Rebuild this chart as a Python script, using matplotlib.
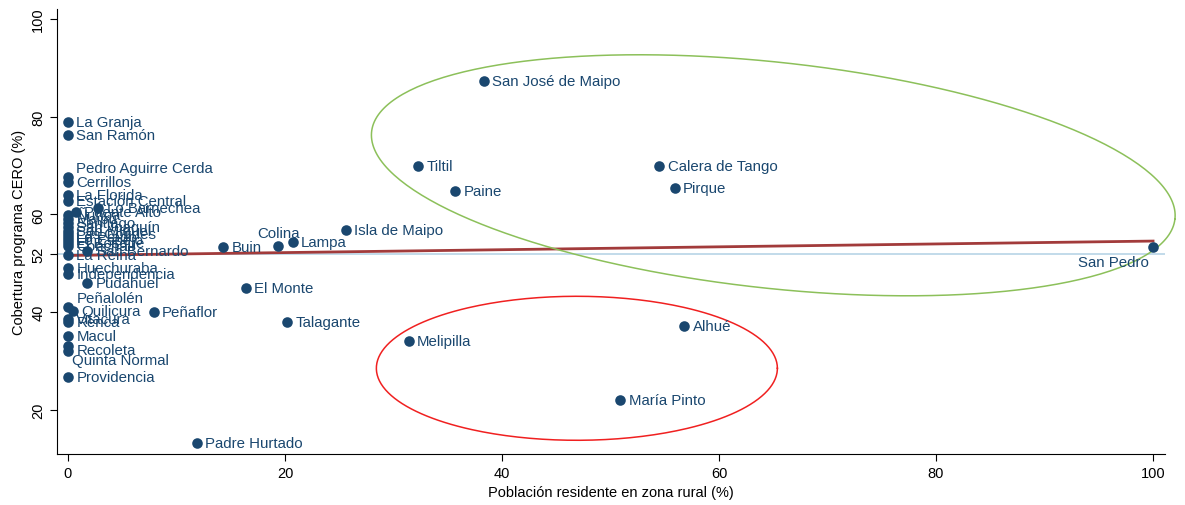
import numpy as np
import matplotlib
matplotlib.use("Agg")
import matplotlib.pyplot as plt

plt.rcParams['font.family'] = ['Liberation Sans', 'DejaVu Sans']

# comunas of the Región Metropolitana
comunas = ["La Granja", "San Ramón", "Pedro Aguirre Cerda", "Cerrillos",
           "La Florida", "Estación Central", "Lo Barnechea", "Puente Alto",
           "Ñuñoa", "Maipú", "Santiago", "San Joaquín", "San Miguel",
           "Las Condes", "Lo Prado", "Lo Espejo", "El Bosque", "Conchalí",
           "San Bernardo", "La Reina", "Huechuraba", "Independencia",
           "Pudahuel", "Peñalolén", "Quilicura", "Vitacura", "Renca",
           "Macul", "Recoleta", "Quinta Normal", "Providencia",
           "Padre Hurtado", "Peñaflor", "El Monte", "Talagante", "Buin",
           "Colina", "Lampa", "Isla de Maipo", "Tiltil", "Paine",
           "San José de Maipo", "Melipilla", "María Pinto", "Alhué",
           "Calera de Tango", "Pirque", "San Pedro"]
# % population living in rural zone
rural = [0, 0, 0, 0,
         0, 0, 2.8, 0.7,
         0, 0, 0, 0, 0,
         0, 0, 0, 0, 0,
         1.8, 0, 0, 0,
         1.8, 0, 0.5, 0, 0,
         0, 0, 0, 0,
         11.9, 7.9, 16.4, 20.2, 14.3,
         19.4, 20.7, 25.6, 32.3, 35.7,
         38.3, 31.4, 50.9, 56.8,
         54.5, 55.9, 100]
# cobertura programa CERO (%)
cobertura = [78.9, 76.3, 67.7, 66.7,
             63.9, 62.8, 61.3, 60.5,
             59.8, 59.0, 58.3, 57.5, 56.7,
             56.0, 55.3, 54.7, 54.1, 53.5,
             52.6, 51.7, 49.1, 47.9,
             46.0, 41.1, 40.3, 38.6, 38.0,
             35.2, 33.1, 32.1, 26.8,
             13.3, 40.1, 45.0, 38.0, 53.4,
             53.6, 54.4, 56.9, 69.9, 64.8,
             87.3, 34.2, 22.1, 37.2,
             69.9, 65.4, 53.4]

# label positions that are not to the right of the marker
label_pos = {"Pedro Aguirre Cerda": "above", "Peñalolén": "above",
             "Quinta Normal": "below", "Recoleta": "lowright",
             "Colina": "top", "San Pedro": "bottomleft"}

navy = "#1a476f"

fig = plt.figure(figsize=(11.85, 5.06), dpi=100)
ax = fig.add_axes([57 / 1185, 51 / 506, 1108 / 1185, 445 / 506])

# mean line and linear fit
ax.axhline(52, color="#b7d4e6", lw=1.2, zorder=1)
slope, intercept = np.polyfit(rural, cobertura, 1)
xs = np.array([0, 100])
ax.plot(xs, intercept + slope * xs, color="#a23b3b", lw=2, zorder=2)

ax.scatter(rural, cobertura, s=58, color=navy, zorder=3, linewidths=0)

for name, x, y in zip(comunas, rural, cobertura):
    pos = label_pos.get(name, "right")
    if pos == "right":
        off, ha, va = (6, 0), "left", "center"
    elif pos == "above":
        off, ha, va = (6, 6.5), "left", "center"
    elif pos == "below":
        off, ha, va = (3, -6.5), "left", "center"
    elif pos == "lowright":
        off, ha, va = (6, -3), "left", "center"
    elif pos == "top":
        off, ha, va = (0, 9), "center", "center"
    else:
        off, ha, va = (-3, -11), "right", "center"
    ax.annotate(name, (x, y), xytext=off, textcoords="offset points",
                ha=ha, va=va, fontsize=10.8, color=navy, zorder=4)

# ellipses marking the groups (drawn in pixel-like units)
t = np.linspace(0, 2 * np.pi, 300)
sx, sy = 10.85, 4.89  # pixels per data unit
th = np.deg2rad(-6.2)
u, v = 404 * np.cos(t), 113 * np.sin(t)
ax.plot(65.0 + (u * np.cos(th) - v * np.sin(th)) / sx,
        100 - (176.5 - 20) / sy + (u * np.sin(th) + v * np.cos(th)) / sy,
        color="#8cc05a", lw=1.1, zorder=2, clip_on=False)
ax.plot(46.9 + 200.5 * np.cos(t) / sx, 100 - (369.5 - 20) / sy + 72 * np.sin(t) / sy,
        color="#f02020", lw=1.1, zorder=2, clip_on=False)

ax.set_xlim(-1.01, 101.1)
ax.set_ylim(11.0, 102.0)
ax.set_xticks([0, 20, 40, 60, 80, 100])
ax.set_yticks([20, 40, 52, 60, 80, 100])
ax.tick_params(axis="y", labelrotation=90, labelsize=10.5, length=5)
ax.tick_params(axis="x", labelsize=10.5, length=5)
for lab in ax.get_yticklabels():
    lab.set_va("center")
ax.spines["top"].set_visible(False)
ax.spines["right"].set_visible(False)
ax.set_xlabel("Población residente en zona rural (%)", fontsize=10.5)
ax.set_ylabel("Cobertura programa CERO (%)", fontsize=10.5)

fig.savefig("out.png", dpi=100)
